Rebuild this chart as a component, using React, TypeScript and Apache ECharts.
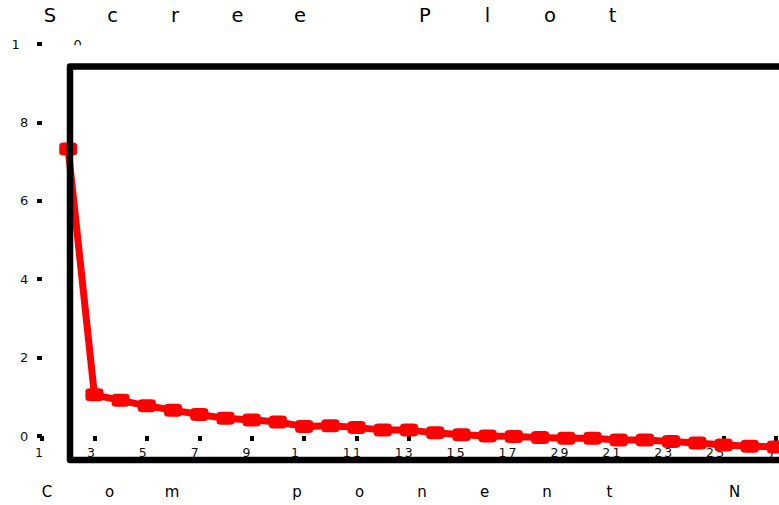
import React, { useEffect, useRef } from "react";
import * as echarts from "echarts";

const titleText = "Scree Plot";
const axisTitleText = "Com ponent N";
const components = [1, 2, 3, 4, 5, 6, 7, 8, 9, 10, 11, 12, 13, 14, 15, 16, 17, 18, 19, 20, 21, 22, 23, 24, 25, 26, 27, 28];
const eigenvalues = [7.32, 1.05, 0.91, 0.77, 0.66, 0.55, 0.45, 0.41, 0.36, 0.24, 0.26, 0.22, 0.15, 0.15, 0.08, 0.03, 0.0, -0.01, -0.04, -0.06, -0.06, -0.1, -0.1, -0.14, -0.18, -0.23, -0.26, -0.28];
const xTickLabels = ["1", "3", "5", "7", "9", "11", "13", "15", "17", "19", "21", "23", "25", "27", "29"];
const yTickLabels = ["0", "2", "4", "6", "8", "10"];

const FONT = "DejaVu Sans";

function spaced(text: string, tok: string) {
  return text
    .split("")
    .map((ch) => `{${tok}|${ch}}`)
    .join("");
}

function spacedLabel(label: string) {
  if (label.length === 1) return `{s|${label}}`;
  return `{f|${label[0]}}{l|${label.slice(1)}}`;
}

export default function App() {
  const ref = useRef<HTMLDivElement>(null);

  useEffect(() => {
    if (!ref.current) return;
    const chart = echarts.init(ref.current, undefined, { renderer: "svg" });
    const data = components.map((c, i) => [c, eigenvalues[i]]);

    const tick = { color: "#111", fontFamily: FONT, fontWeight: "normal" as const };

    chart.setOption({
      animation: false,
      backgroundColor: "#ffffff",
      title: [
        {
          text: spaced(titleText, "t"),
          left: 18.75,
          top: 5,
          padding: 0,
          textStyle: {
            fontWeight: "normal",
            fontFamily: FONT,
            rich: {
              t: { width: 62.5, align: "center", fontSize: 19.5, lineHeight: 20, color: "#000", fontFamily: FONT, fontWeight: "normal" },
            },
          },
        },
        {
          text: spaced(axisTitleText, "a"),
          left: 15.75,
          top: 484,
          padding: 0,
          textStyle: {
            fontWeight: "normal",
            fontFamily: FONT,
            rich: {
              a: { width: 62.5, align: "center", fontSize: 15, lineHeight: 16, color: "#000", fontFamily: FONT, fontWeight: "normal" },
            },
          },
        },
      ],
      grid: [
        { left: 42, right: 3, top: 44, bottom: 69 },
        { left: 31.5, right: 13.5, top: 44, bottom: 69 },
      ],
      xAxis: [
        {
          type: "value",
          gridIndex: 0,
          min: 0,
          max: 28,
          interval: 2,
          axisLine: { show: false },
          axisTick: { show: true, length: 5, lineStyle: { color: "#000", width: 4 } },
          axisLabel: { show: false },
          splitLine: { show: false },
        },
        {
          type: "value",
          gridIndex: 1,
          min: 0,
          max: 28,
          interval: 2,
          axisLine: { show: false },
          axisTick: { show: false },
          splitLine: { show: false },
          axisLabel: {
            show: true,
            align: "left",
            margin: 9,
            fontSize: 12.5,
            ...tick,
            formatter: (v: number) => spacedLabel(xTickLabels[Math.round(v / 2)] ?? ""),
            rich: {
              s: { padding: [0, 0, 0, 3.5], fontSize: 12.5, lineHeight: 14, ...tick },
              f: { width: 62, align: "left", fontSize: 12.5, lineHeight: 14, ...tick },
              l: { fontSize: 12.5, lineHeight: 14, ...tick },
            },
          },
        },
      ],
      yAxis: [
        {
          type: "value",
          gridIndex: 0,
          min: 0,
          max: 10,
          interval: 2,
          axisLine: { show: false },
          axisTick: { show: true, length: 5, lineStyle: { color: "#000", width: 4 } },
          splitLine: { show: false },
          axisLabel: {
            show: true,
            align: "left",
            margin: 30.5,
            fontSize: 13,
            ...tick,
            formatter: (v: number) => spacedLabel(yTickLabels[Math.round(v / 2)] ?? ""),
            rich: {
              s: { padding: [0, 0, 0, 8.5], fontSize: 13, lineHeight: 15, ...tick },
              f: { width: 62, align: "left", fontSize: 13, lineHeight: 15, ...tick },
              l: { fontSize: 13, lineHeight: 15, ...tick },
            },
          },
        },
        {
          type: "value",
          gridIndex: 1,
          min: 0,
          max: 10,
          show: false,
        },
      ],
      series: [
        {
          type: "line",
          xAxisIndex: 0,
          yAxisIndex: 0,
          data,
          clip: false,
          showAllSymbol: true,
          symbol: "roundRect",
          symbolSize: [18, 13],
          itemStyle: { color: "#ff0000" },
          lineStyle: { color: "#ff0000", width: 7 },
          z: 3,
        },
      ],
      graphic: [
        {
          type: "rect",
          z: 50,
          shape: { x: 71, y: 45.2, width: 14, height: 7 },
          style: { fill: "#ffffff" },
        },
        {
          type: "polyline",
          z: 100,
          shape: {
            points: [
              [779, 66.5],
              [70, 66.5],
              [70, 460],
              [779, 460],
            ],
          },
          style: { stroke: "#000", lineWidth: 6.5, fill: null, lineJoin: "round" },
        },
      ],
    });

    return () => chart.dispose();
  }, []);

  return (
    <div
      ref={ref}
      style={{ position: "absolute", left: 0, top: 0, width: 779, height: 505 }}
    />
  );
}
